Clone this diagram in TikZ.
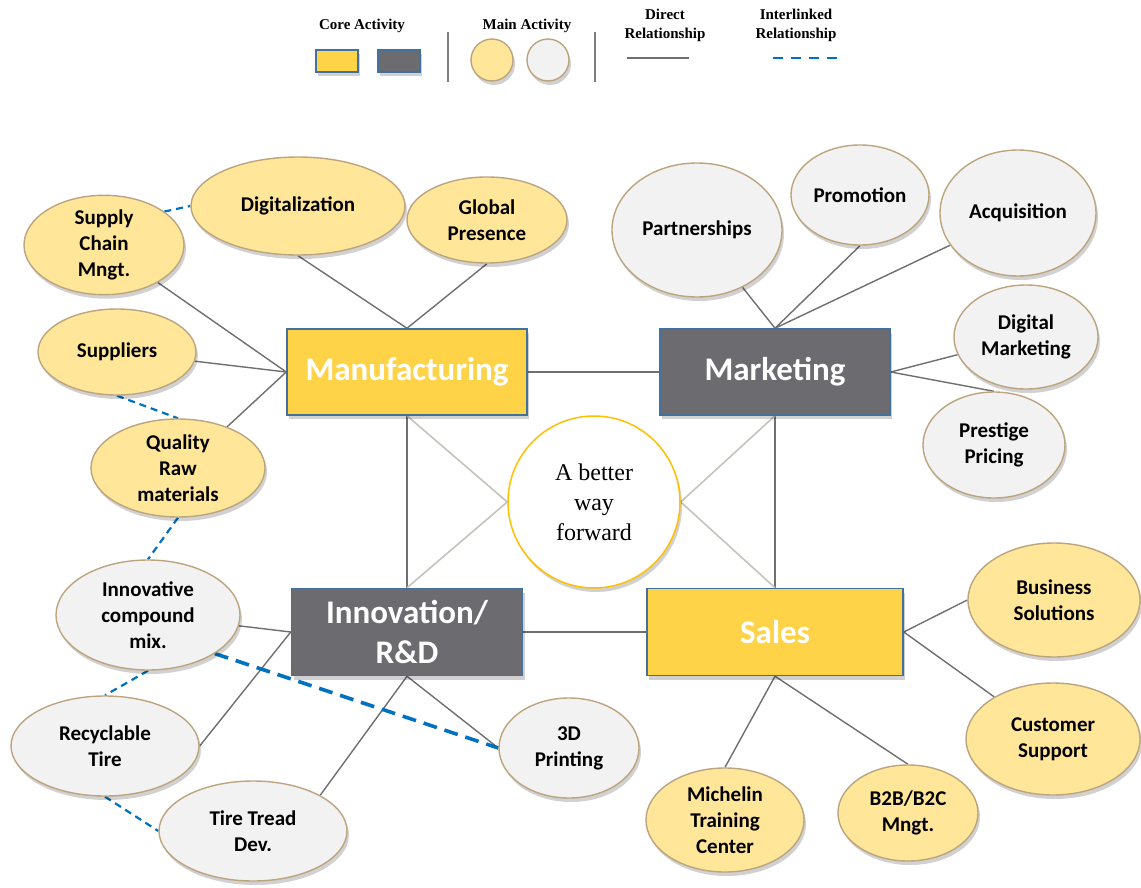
\documentclass[tikz,border=0pt]{standalone}
\usepackage{fontspec}
\setmainfont{Liberation Serif}
\newfontfamily\calfont{Carlito}
\usetikzlibrary{shapes.geometric,shadows}
\pgfdeclarelayer{bg}
\pgfdeclarelayer{paper}
\pgfsetlayers{paper,bg,main}
\definecolor{coreY}{HTML}{FFD348}
\definecolor{coreD}{HTML}{6C6B70}
\definecolor{boxB}{HTML}{41719C}
\definecolor{mainY}{HTML}{FFE699}
\definecolor{mainW}{HTML}{F2F2F2}
\definecolor{tanB}{HTML}{BCA57E}
\definecolor{ringC}{HTML}{FFC000}
\definecolor{blueD}{HTML}{0070C0}
\definecolor{connC}{HTML}{6F6F6F}
\definecolor{liteC}{HTML}{C4C4BC}
\definecolor{sepC}{HTML}{7F7F7F}
\begin{document}
\begin{tikzpicture}[x=1pt,y=-1pt,
  shd/.style={drop shadow={shadow xshift=2pt,shadow yshift=-4pt,opacity=0.18,fill=black}},
  sz/.style 2 args={minimum width=#1pt,minimum height=#2pt},
  corebox/.style={rectangle,draw=boxB,line width=1.5pt,text=white,align=center,inner sep=0pt,
    font=\calfont\bfseries\fontsize{33}{40}\selectfont,shd},
  coreyel/.style={corebox,fill=coreY},
  coredark/.style={corebox,fill=coreD},
  ell/.style={ellipse,draw=tanB,line width=1.4pt,inner sep=0pt,align=center,
    font=\calfont\bfseries\fontsize{21}{26}\selectfont,shd},
  ely/.style={ell,fill=mainY},
  elw/.style={ell,fill=mainW},
  conn/.style={draw=connC,line width=1.4pt},
  lite/.style={draw=liteC,line width=1.6pt},
  ilink/.style={draw=blueD,line width=2.2pt,dash pattern=on 7pt off 5pt},
  lgtext/.style={font=\bfseries\fontsize{15}{19}\selectfont,align=center,inner sep=0pt},
  sepline/.style={draw=sepC,line width=1.8pt}]
\useasboundingbox (0,0) rectangle (1141,888);
\begin{pgfonlayer}{paper}
\fill[white] (0,0) rectangle (1141,888);
\end{pgfonlayer}

% legend
\node[lgtext] (lcore) at (362,26) {Core Activity};
\node[lgtext] (lmain) at (527,26) {Main Activity};
\node[lgtext] (ldir) at (665,25) {Direct\\Relationship};
\node[lgtext] (lint) at (796,25) {Interlinked\\Relationship};
\node[rectangle,draw=boxB,line width=1.4pt,fill=coreY,sz={42}{22},shd] (lg1) at (337,61) {};
\node[rectangle,draw=boxB,line width=1.4pt,fill=coreD,sz={42}{22},shd] (lg2) at (399,61) {};
\node[circle,draw=tanB,line width=1.4pt,fill=mainY,minimum size=42pt,shd] (lg3) at (492,60) {};
\node[circle,draw=tanB,line width=1.4pt,fill=mainW,minimum size=42pt,shd] (lg4) at (548,60) {};
\coordinate (s1a) at (448,32); \coordinate (s1b) at (448,82);
\coordinate (s2a) at (595,32); \coordinate (s2b) at (595,82);
\draw[sepline] (s1a) -- (s1b);
\draw[sepline] (s2a) -- (s2b);
\coordinate (d1) at (627,58); \coordinate (d2) at (689,58);
\draw[draw=connC,line width=2.6pt] (d1) -- (d2);
\coordinate (i1) at (773,58); \coordinate (i2) at (838,58);
\draw[draw=blueD,line width=2.6pt,dash pattern=on 10pt off 8pt] (i1) -- (i2);

% core boxes
\node[coreyel,sz={240}{86}] (man) at (407,372) {Manufacturing};
\node[coredark,sz={230}{86}] (mkt) at (775,372) {Marketing};
\node[coredark,sz={231}{87}] (rnd) at (407,632) {Innovation/\\R\&D};
\node[coreyel,sz={256}{87}] (sal) at (775,632) {Sales};

% centre
\node[circle,draw=ringC,line width=1.5pt,fill=white,minimum size=172pt,inner sep=0pt,align=center,
  font=\fontsize{24}{30}\selectfont,shd] (ctr) at (594,502) {A better\\way\\forward};

% manufacturing activities
\node[ely,sz={160}{96}] (sc) at (104,245) {Supply\\Chain\\Mngt.};
\node[ely,sz={214}{98}] (dig) at (298,206) {Digitalization};
\node[ely,sz={160}{86}] (gp) at (487,220) {Global\\Presence};
\node[ely,sz={158}{86}] (sup) at (117,352) {Suppliers};
\node[ely,sz={174}{98}] (qrm) at (178,468) {Quality\\Raw\\materials};

% innovation activities
\node[elw,sz={184}{110}] (icm) at (148,615) {Innovative\\compound\\mix.};
\node[elw,sz={188}{100}] (rt) at (105,746) {Recyclable\\Tire};
\node[elw,sz={188}{100}] (ttd) at (253,831) {Tire Tread\\Dev.};
\node[elw,sz={140}{100}] (p3d) at (569,748) {3D\\Printing};

% marketing activities
\node[elw,sz={170}{134}] (par) at (697,230) {Partnerships};
\node[elw,sz={138}{100}] (pro) at (860,195) {Promotion};
\node[elw,sz={156}{126}] (acq) at (1018,213) {Acquisition};
\node[elw,sz={144}{104}] (dm) at (1026,337) {Digital\\Marketing};
\node[elw,sz={142}{106}] (pp) at (994,445) {Prestige\\Pricing};

% sales activities
\node[ely,sz={172}{114}] (bs) at (1054,600) {Business\\Solutions};
\node[ely,sz={174}{112}] (cs) at (1053,739) {Customer\\Support};
\node[ely,sz={158}{104}] (mtc) at (725,820) {Michelin\\Training\\Center};
\node[ely,sz={140}{96}] (b2b) at (908,813) {B2B/B2C\\Mngt.};

\begin{pgfonlayer}{bg}
  % direct relationships
  \draw[conn] (man.west) -- (sc);
  \draw[conn] (man.west) -- (sup);
  \draw[conn] (man.west) -- (qrm.40);
  \draw[conn] (man.north) -- (dig.south);
  \draw[conn] (man.north) -- (gp.south);
  \draw[conn] (mkt.north) -- (par);
  \draw[conn] (mkt.north) -- (pro.south);
  \draw[conn] (mkt.north) -- (acq);
  \draw[conn] (mkt.east) -- (dm);
  \draw[conn] (mkt.east) -- (pp.north);
  \draw[conn] (rnd.west) -- (icm);
  \draw[conn] (rnd.west) -- (rt.east);
  \draw[conn] (rnd.south) -- (ttd.28);
  \draw[conn] (rnd.south) -- (p3d.west);
  \draw[conn] (sal.east) -- (bs.west);
  \draw[conn] (sal.east) -- (cs);
  \draw[conn] (sal.south) -- (mtc.north);
  \draw[conn] (sal.south) -- (b2b.north);
  \draw[conn] (man.east) -- (mkt.west);
  \draw[conn] (rnd.east) -- (sal.west);
  \draw[conn] (man.south) -- (rnd.north);
  \draw[conn] (mkt.south) -- (sal.north);
  \draw[lite] (man.south) -- (ctr.west) -- (rnd.north);
  \draw[lite] (mkt.south) -- (ctr.east) -- (sal.north);
  % interlinked relationships
  \draw[ilink] (sc.29) -- (dig.west);
  \draw[ilink] (sup.south) -- (qrm.north);
  \draw[ilink] (qrm.south) -- (icm.north);
  \draw[ilink] (icm.south) -- (rt.north);
  \draw[ilink] (rt.south) -- (ttd.west);
  \draw[draw=blueD,line width=3.6pt,dash pattern=on 14pt off 8pt] (icm.-30) -- (p3d.west);
\end{pgfonlayer}
\end{tikzpicture}
\end{document}
